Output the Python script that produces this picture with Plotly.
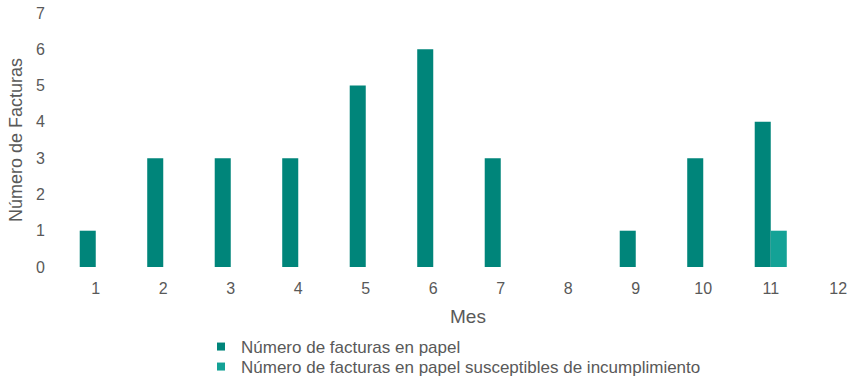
import plotly.graph_objects as go

meses = [1, 2, 3, 4, 5, 6, 7, 8, 9, 10, 11, 12]
facturas_papel = [1, 3, 3, 3, 5, 6, 3, 0, 1, 3, 4, 0]
facturas_incumplimiento = [0, 0, 0, 0, 0, 0, 0, 0, 0, 0, 1, 0]
nombres = ["Número de facturas en papel",
           "Número de facturas en papel susceptibles de incumplimiento"]
colores = ["#00857A", "#14A296"]
y_ticks = [0, 1, 2, 3, 4, 5, 6, 7]

FONT = "Liberation Sans, Arial, sans-serif"
GREY = "#595959"

fig = go.Figure()
for vals, name, col in zip([facturas_papel, facturas_incumplimiento], nombres, colores):
    fig.add_trace(go.Bar(x=meses, y=vals, name=name, marker_color=col,
                         marker_line_width=0, showlegend=False))
for name, col, lg in zip(nombres, colores, ["legend", "legend2"]):
    fig.add_trace(go.Scatter(x=[None], y=[None], mode="markers", name=name,
                             legend=lg,
                             marker=dict(symbol="square", size=8, color=col)))

legend_common = dict(x=(201 - 62) / 793, xanchor="left", yref="container",
                     yanchor="middle", orientation="v",
                     font=dict(size=17, color=GREY), bgcolor="rgba(0,0,0,0)")

fig.update_layout(
    width=855, height=378,
    margin=dict(l=62, r=0, t=13, b=111),
    paper_bgcolor="white", plot_bgcolor="white",
    barmode="group", bargap=0.525, bargroupgap=0,
    font=dict(family=FONT, size=16, color=GREY),
    xaxis=dict(range=[0.5, 0.5 + 793 / 67.5], tickmode="array", tickvals=meses,
               ticktext=[str(m) for m in meses], showgrid=False, zeroline=False,
               showline=False, ticks="", ticklabelstandoff=10,
               tickfont=dict(size=16, color=GREY)),
    yaxis=dict(range=[0, 7], tickmode="array", tickvals=y_ticks,
               showgrid=False, zeroline=False, showline=False, ticks="",
               ticklabelstandoff=16, tickfont=dict(size=16, color=GREY),
               title=dict(text="Número de Facturas", standoff=8,
                          font=dict(size=18, color=GREY))),
    legend=dict(y=1 - 347 / 378, **legend_common),
    legend2=dict(y=1 - 367 / 378, **legend_common),
    annotations=[dict(text="Mes", xref="paper", yref="paper",
                      x=(468 - 62) / 793, y=(267 - 316) / 254,
                      xanchor="center", yanchor="middle", showarrow=False,
                      font=dict(size=19, color=GREY))],
)
fig.update_yaxes(automargin=False)
fig.update_xaxes(automargin=False)

fig.write_html("out.html")
